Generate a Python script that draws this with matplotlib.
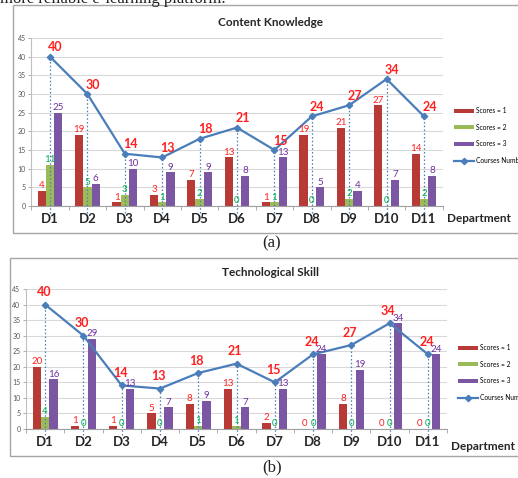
import matplotlib
matplotlib.use("Agg")
import matplotlib.pyplot as plt
from matplotlib.patches import Rectangle
import numpy as np

departments = ["D1", "D2", "D3", "D4", "D5", "D6", "D7", "D8", "D9", "D10", "D11"]
courses_number = [40, 30, 14, 13, 18, 21, 15, 24, 27, 34, 24]

ck_scores1 = [4, 19, 1, 3, 7, 13, 1, 19, 21, 27, 14]
ck_scores2 = [11, 5, 3, 1, 2, 0, 1, 0, 2, 0, 2]
ck_scores3 = [25, 6, 10, 9, 9, 8, 13, 5, 4, 7, 8]

ts_scores1 = [20, 1, 1, 5, 8, 13, 2, 0, 8, 0, 0]
ts_scores2 = [4, 0, 0, 0, 1, 1, 0, 0, 0, 0, 0]
ts_scores3 = [16, 29, 13, 7, 9, 7, 13, 24, 19, 34, 24]

yticks = [0, 5, 10, 15, 20, 25, 30, 35, 40, 45]

plt.rcParams['font.family'] = ['Lato', 'DejaVu Sans']

W, H = 518, 478
fig = plt.figure(figsize=(W / 100, H / 100), dpi=100)

def rect(x0, y0, x1, y1):
    return [x0 / W, 1 - y1 / H, (x1 - x0) / W, (y1 - y0) / H]

C_RED = "#B83A36"
C_GREEN = "#9BBB59"
C_PURPLE = "#7B56A2"
C_LINE = "#4A7EBB"
L_RED = "#FF2020"
L_GREEN = "#00B050"
L_PURPLE = "#7030A0"

# panel frames
for (x0, y0, x1, y1) in [(13, 5, 530, 233), (10, 258, 530, 456)]:
    fig.add_artist(Rectangle((x0 / W, 1 - y1 / H), (x1 - x0) / W, (y1 - y0) / H,
                             transform=fig.transFigure, fill=False,
                             edgecolor="#A6A6A6", lw=1.0))

# cut-off text at the top
fig.text(0 / W, 1 - (-1) / H, "more reliable e-learning platform.", family="Liberation Serif",
         fontsize=12, ha="left", va="center", color="#222222")


def draw_panel(axrect, title, title_y, s1, s2, s3, dept_xy, leg_xy, cap, cap_y, lab_off):
    ax = fig.add_axes(rect(*axrect))
    x = np.arange(len(departments))
    bw = 0.22
    b1 = ax.bar(x - bw, s1, bw, color=C_RED, label="Scores = 1", zorder=2)
    b2 = ax.bar(x, s2, bw, color=C_GREEN, label="Scores = 2", zorder=2)
    b3 = ax.bar(x + bw, s3, bw, color=C_PURPLE, label="Scores = 3", zorder=2)
    ln, = ax.plot(x, courses_number, color=C_LINE, lw=1.6, marker="D", ms=3.2,
                  label="Courses Number", zorder=4)
    ax.vlines(x, -1.8, courses_number, colors=C_LINE, linestyles=(0, (1.2, 1.8)),
              lw=0.9, zorder=3, clip_on=False)
    for xi, v in zip(x, s1):
        ax.annotate(str(v), (xi - bw, v), xytext=(0, 0.5), textcoords="offset points",
                    ha="center", va="bottom", fontsize=7, color=L_RED, zorder=5)
    for xi, v in zip(x, s2):
        ax.annotate(str(v), (xi, v), xytext=(0, 0.5), textcoords="offset points",
                    ha="center", va="bottom", fontsize=7, color=L_GREEN, zorder=5)
    for xi, v in zip(x, s3):
        ax.annotate(str(v), (xi + bw, v), xytext=(0, 0.5), textcoords="offset points",
                    ha="center", va="bottom", fontsize=7, color=L_PURPLE, zorder=5)
    for xi, v in zip(x, courses_number):
        ax.annotate(str(v), (xi, v), xytext=lab_off, textcoords="offset points",
                    ha="center", va="bottom", fontsize=9, fontweight="bold",
                    color=L_RED, zorder=5)
    ax.set_xlim(-0.5, len(departments) - 0.5)
    ax.set_ylim(0, 45)
    ax.set_yticks(yticks)
    ax.tick_params(axis="y", labelsize=5, colors="#595959", length=2, width=0.6,
                   color="#A0A0A0", pad=2)
    ax.set_xticks(x)
    ax.set_xticklabels(departments, fontsize=9.5, fontweight="bold", color="#262626")
    ax.tick_params(axis="x", length=0, pad=5)
    ax.set_xticks(np.arange(-0.5, len(departments), 1.0), minor=True)
    ax.tick_params(axis="x", which="minor", length=3, width=0.6, color="#A0A0A0")
    ax.grid(axis="y", color="#D9D9D9", lw=0.8, zorder=0)
    ax.set_axisbelow(True)
    for s in ["top", "right"]:
        ax.spines[s].set_visible(False)
    ax.spines["left"].set_color("#BFBFBF")
    ax.spines["bottom"].set_color("#A0A0A0")
    ax.spines["left"].set_linewidth(0.8)
    ax.spines["bottom"].set_linewidth(0.8)
    ax.set_facecolor("white")

    fig.text(271 / W, 1 - title_y / H, title, fontsize=8.5, fontweight="bold",
             ha="center", va="center", color="#262626")
    fig.text(dept_xy[0] / W, 1 - dept_xy[1] / H, "Department", fontsize=8.5,
             fontweight="bold", ha="left", va="center", color="#262626")
    fig.legend([b1, b2, b3, ln], ["Scores = 1", "Scores = 2", "Scores = 3", "Courses Number"],
               loc="upper left", bbox_to_anchor=(leg_xy[0] / W, 1 - leg_xy[1] / H),
               frameon=False, fontsize=4.8, handlelength=3.0, handleheight=0.5,
               handletextpad=0.3, labelspacing=1.45, borderpad=0, borderaxespad=0)
    fig.text(272 / W, 1 - cap_y / H, cap, family="Liberation Serif", fontsize=12,
             ha="center", va="center", color="#222222")
    return ax


draw_panel((31.3, 38, 442.7, 206), "Content Knowledge", 22,
           ck_scores1, ck_scores2, ck_scores3, (447, 219), (454, 107), "(a)", 243, (4, 2.5))
draw_panel((26, 289, 447, 429), "Technological Skill", 272,
           ts_scores1, ts_scores2, ts_scores3, (451, 446), (458, 344), "(b)", 467, (-1, 4.5))

fig.savefig("out.png", dpi=100)
